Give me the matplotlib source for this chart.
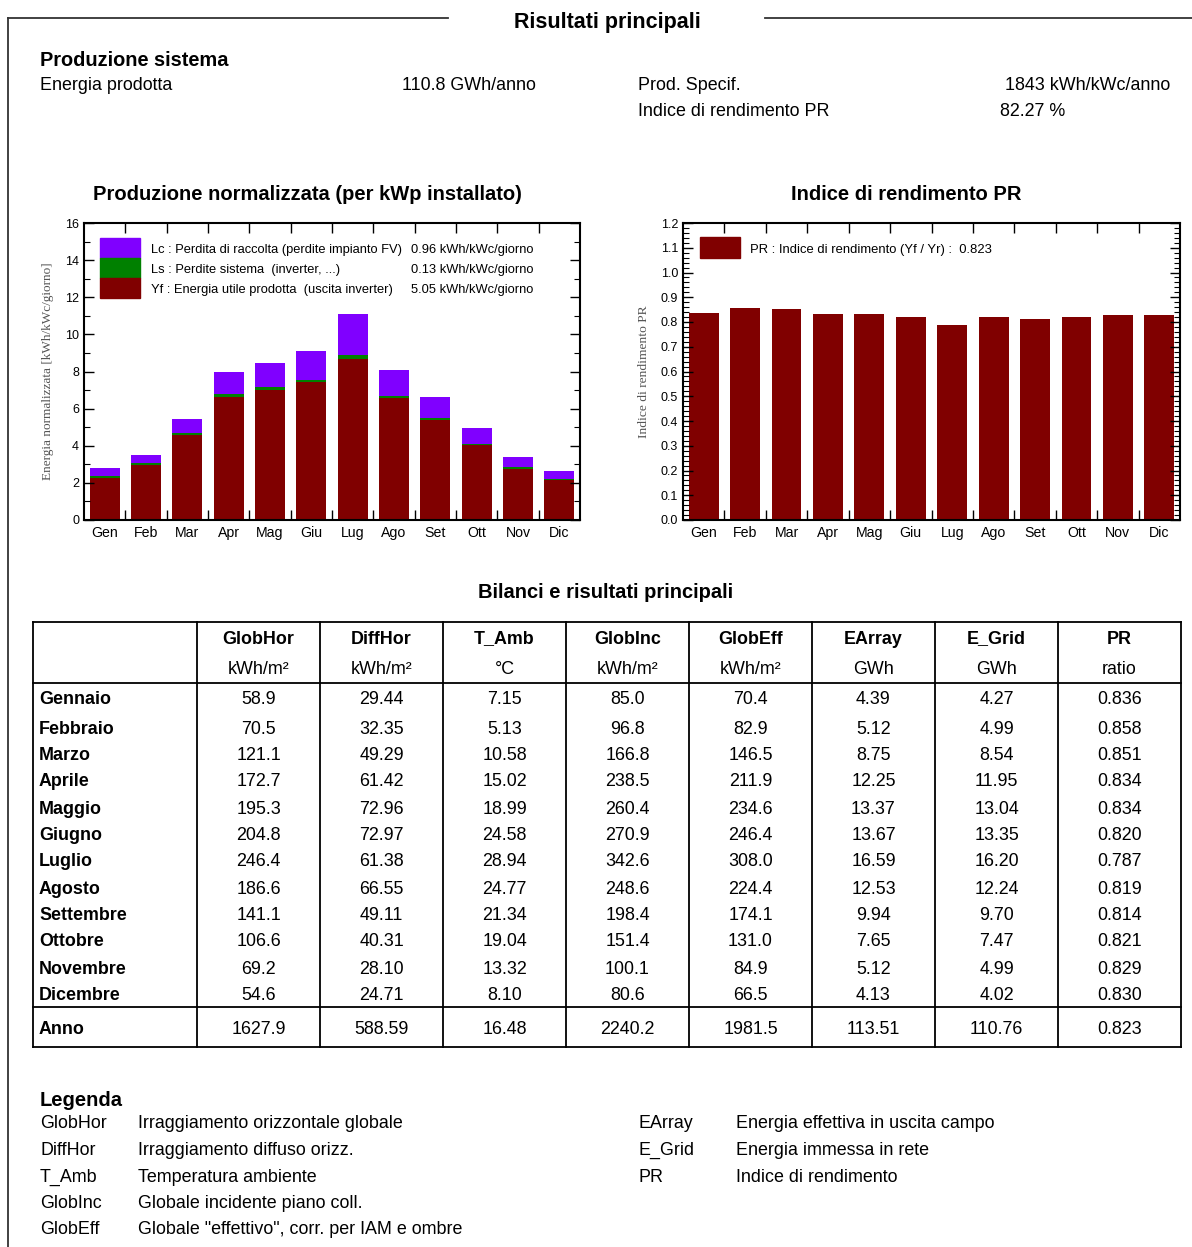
import matplotlib.pyplot as plt
from matplotlib.patches import Rectangle
from matplotlib.ticker import MultipleLocator, FixedLocator

plt.rcParams['font.family'] = ['Liberation Sans', 'DejaVu Sans']

W, H = 1192, 1247

# --- data ---
mesi = ["Gen", "Feb", "Mar", "Apr", "Mag", "Giu", "Lug", "Ago", "Set", "Ott", "Nov", "Dic"]
yf = [2.28, 2.95, 4.59, 6.64, 7.00, 7.43, 8.69, 6.56, 5.40, 4.03, 2.77, 2.14]
ls = [0.11, 0.11, 0.12, 0.14, 0.16, 0.12, 0.19, 0.13, 0.10, 0.07, 0.07, 0.07]
lc = [0.43, 0.45, 0.72, 1.22, 1.29, 1.57, 2.23, 1.39, 1.15, 0.85, 0.56, 0.43]
pr = [0.836, 0.858, 0.851, 0.834, 0.834, 0.820, 0.787, 0.819, 0.814, 0.821, 0.829, 0.830]

righe = ["Gennaio", "Febbraio", "Marzo", "Aprile", "Maggio", "Giugno", "Luglio",
         "Agosto", "Settembre", "Ottobre", "Novembre", "Dicembre", "Anno"]
colonne = ["GlobHor", "DiffHor", "T_Amb", "GlobInc", "GlobEff", "EArray", "E_Grid", "PR"]
unita = ["kWh/m²", "kWh/m²", "°C", "kWh/m²", "kWh/m²", "GWh", "GWh", "ratio"]
glob_hor = ["58.9", "70.5", "121.1", "172.7", "195.3", "204.8", "246.4", "186.6", "141.1", "106.6", "69.2", "54.6", "1627.9"]
diff_hor = ["29.44", "32.35", "49.29", "61.42", "72.96", "72.97", "61.38", "66.55", "49.11", "40.31", "28.10", "24.71", "588.59"]
t_amb = ["7.15", "5.13", "10.58", "15.02", "18.99", "24.58", "28.94", "24.77", "21.34", "19.04", "13.32", "8.10", "16.48"]
glob_inc = ["85.0", "96.8", "166.8", "238.5", "260.4", "270.9", "342.6", "248.6", "198.4", "151.4", "100.1", "80.6", "2240.2"]
glob_eff = ["70.4", "82.9", "146.5", "211.9", "234.6", "246.4", "308.0", "224.4", "174.1", "131.0", "84.9", "66.5", "1981.5"]
e_array = ["4.39", "5.12", "8.75", "12.25", "13.37", "13.67", "16.59", "12.53", "9.94", "7.65", "5.12", "4.13", "113.51"]
e_grid = ["4.27", "4.99", "8.54", "11.95", "13.04", "13.35", "16.20", "12.24", "9.70", "7.47", "4.99", "4.02", "110.76"]
pr_tab = ["0.836", "0.858", "0.851", "0.834", "0.834", "0.820", "0.787", "0.819", "0.814", "0.821", "0.829", "0.830", "0.823"]

legenda_sx = [("GlobHor", "Irraggiamento orizzontale globale"),
              ("DiffHor", "Irraggiamento diffuso orizz."),
              ("T_Amb", "Temperatura ambiente"),
              ("GlobInc", "Globale incidente piano coll."),
              ("GlobEff", 'Globale "effettivo", corr. per IAM e ombre')]
legenda_dx = [("EArray", "Energia effettiva in uscita campo"),
              ("E_Grid", "Energia immessa in rete"),
              ("PR", "Indice di rendimento")]

C_YF, C_LS, C_LC = "#800000", "#008000", "#8000ff"
FS = 12.9   # body text size
VA = "center_baseline"

fig = plt.figure(figsize=(W / 100, H / 100), dpi=100)
bg = fig.add_axes([0, 0, 1, 1])
bg.set_xlim(0, W)
bg.set_ylim(H, 0)
bg.axis("off")

# frame + headers
bg.plot([8, 448], [18, 18], color="#333", lw=1.3)
bg.plot([765, W], [18, 18], color="#333", lw=1.3)
bg.plot([8, 8], [18, H], color="#333", lw=1.3)
bg.text(607, 20, "Risultati principali", ha="center", va=VA, fontsize=15.5, fontweight="bold")
bg.text(40, 58, "Produzione sistema", va=VA, fontsize=14.4, fontweight="bold")
bg.text(40, 84, "Energia prodotta", va=VA, fontsize=FS)
bg.text(402, 84, "110.8 GWh/anno", va=VA, fontsize=FS)
bg.text(638, 84, "Prod. Specif.", va=VA, fontsize=FS)
bg.text(1005, 84, "1843 kWh/kWc/anno", va=VA, fontsize=FS)
bg.text(638, 110, "Indice di rendimento PR", va=VA, fontsize=FS)
bg.text(1000, 110, "82.27 %", va=VA, fontsize=FS)
bg.text(307, 192, "Produzione normalizzata (per kWp installato)", ha="center", va=VA,
        fontsize=14.5, fontweight="bold")
bg.text(906, 192, "Indice di rendimento PR", ha="center", va=VA, fontsize=14.5, fontweight="bold")
bg.text(606, 591, "Bilanci e risultati principali", ha="center", va=VA, fontsize=14.5, fontweight="bold")


def px_axes(l, t, r, b):
    return fig.add_axes([l / W, 1 - b / H, (r - l) / W, (b - t) / H])


def style(ax):
    for s in ax.spines.values():
        s.set_linewidth(1.5)
    ax.set_xlim(-0.5, 11.5)
    ax.set_xticks(range(12))
    ax.set_xticklabels(mesi, fontsize=10.2)
    ax.tick_params(axis="x", which="major", length=0, pad=4)
    ax.xaxis.set_minor_locator(FixedLocator([i + 0.5 for i in range(11)]))
    ax.tick_params(axis="x", which="minor", direction="in", length=7, top=True, bottom=True, width=1)
    ax.tick_params(axis="y", which="both", direction="in", left=True, right=True, labelsize=9)
    ax.tick_params(axis="y", which="major", length=7, width=1)
    ax.tick_params(axis="y", which="minor", length=4, width=0.8)


# left chart
ax1 = px_axes(84, 223, 580, 520)
x = range(12)
ax1.bar(x, yf, width=0.73, color=C_YF)
ax1.bar(x, ls, bottom=yf, width=0.73, color=C_LS)
ax1.bar(x, lc, bottom=[a + b for a, b in zip(yf, ls)], width=0.73, color=C_LC)
style(ax1)
ax1.set_ylim(0, 16)
ax1.yaxis.set_major_locator(MultipleLocator(2))
ax1.yaxis.set_minor_locator(MultipleLocator(1))
ax1.set_ylabel("Energia normalizzata [kWh/kWc/giorno]", family="Liberation Serif", fontsize=9.5,
               color="#555", labelpad=8)
leg = [(C_LC, "Lc : Perdita di raccolta (perdite impianto FV)", "0.96 kWh/kWc/giorno"),
       (C_LS, "Ls : Perdite sistema  (inverter, ...)", "0.13 kWh/kWc/giorno"),
       (C_YF, "Yf : Energia utile prodotta  (uscita inverter)", "5.05 kWh/kWc/giorno")]
for i, (c, lab, val) in enumerate(leg):
    yc = 248 + 20 * i
    ax1.add_patch(Rectangle(((100 - 84) / 496, (520 - yc - 10) / 297), 40 / 496, 20 / 297,
                            transform=ax1.transAxes, color=c, clip_on=False))
    ax1.text((151 - 84) / 496, (520 - yc) / 297, lab, transform=ax1.transAxes, va=VA, fontsize=9.3)
    ax1.text((411 - 84) / 496, (520 - yc) / 297, val, transform=ax1.transAxes, va=VA, fontsize=9.3)

# right chart
ax2 = px_axes(683, 223, 1180, 520)
ax2.bar(x, pr, width=0.72, color=C_YF)
style(ax2)
ax2.set_ylim(0, 1.2)
ax2.yaxis.set_major_locator(MultipleLocator(0.1))
ax2.yaxis.set_minor_locator(MultipleLocator(0.02))
ax2.yaxis.set_major_formatter(plt.FormatStrFormatter("%.1f"))
ax2.set_ylabel("Indice di rendimento PR", family="Liberation Serif", fontsize=9.7, color="#555", labelpad=8)
ax2.add_patch(Rectangle(((700 - 683) / 497, (520 - 258) / 297), 40 / 497, 21 / 297,
                        transform=ax2.transAxes, color=C_YF))
ax2.text((750 - 683) / 497, (520 - 248) / 297, "PR : Indice di rendimento (Yf / Yr) :  0.823",
         transform=ax2.transAxes, va=VA, fontsize=9.4)

# table
xs = [33, 197, 320, 443, 566, 689, 812, 935, 1058, 1181]
top, hdr, sep, bot = 622, 683, 1007, 1047
row_y = [697, 727, 754, 780, 807, 834, 860, 887, 914, 940, 967, 994, 1027]
lw = 1.3
for xv in xs:
    bg.plot([xv, xv], [top, bot], color="black", lw=lw)
for yv in (top, hdr, sep, bot):
    bg.plot([xs[0], xs[-1]], [yv, yv], color="black", lw=lw)
cols = [glob_hor, diff_hor, t_amb, glob_inc, glob_eff, e_array, e_grid, pr_tab]
for j, (name, u) in enumerate(zip(colonne, unita)):
    xc = (xs[j + 1] + xs[j + 2]) / 2
    bg.text(xc, 637, name, ha="center", va=VA, fontsize=FS, fontweight="bold")
    bg.text(xc, 667, u, ha="center", va=VA, fontsize=FS)
for i, r in enumerate(righe):
    bg.text(39, row_y[i], r, va=VA, fontsize=FS, fontweight="bold")
    for j, col in enumerate(cols):
        xc = (xs[j + 1] + xs[j + 2]) / 2
        bg.text(xc, row_y[i], col[i], ha="center", va=VA, fontsize=FS)

# legenda
bg.text(40, 1098, "Legenda", va=VA, fontsize=14.5, fontweight="bold")
for i, (k, d) in enumerate(legenda_sx):
    yv = 1122 + 26.5 * i
    bg.text(40, yv, k, va=VA, fontsize=FS)
    bg.text(138, yv, d, va=VA, fontsize=FS)
for i, (k, d) in enumerate(legenda_dx):
    yv = 1122 + 26.5 * i
    bg.text(638, yv, k, va=VA, fontsize=FS)
    bg.text(736, yv, d, va=VA, fontsize=FS)

fig.savefig("out.png", dpi=100, facecolor="white")
